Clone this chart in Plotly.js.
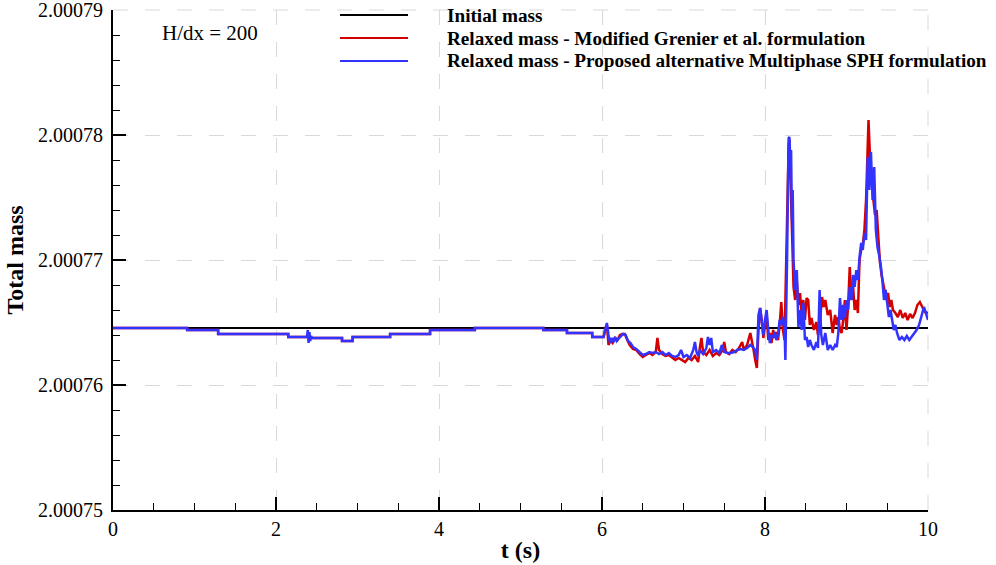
<!DOCTYPE html>
<html>
<head>
<meta charset="utf-8">
<script src="https://cdn.plot.ly/plotly-3.0.1.min.js"></script>
<style>html,body{margin:0;padding:0;background:#fff;}#chart{width:996px;height:565px;}</style>
</head>
<body>
<div id="chart"></div>
<script>
// ---- data ----
const initialT = [0, 10];
const initialM = [2.00076456, 2.00076456];

const blueT = [0,0.91,0.91,1.29,1.29,2.15,2.15,2.38,2.39,2.40,2.41,2.42,2.43,2.44,2.81,2.81,2.94,2.94,3.40,3.40,3.89,3.89,4.44,4.44,5.28,5.28,5.57,5.57,5.88,5.88,6.02,
6.04,6.06,6.08,6.10,6.12,6.14,6.16,6.18,6.20,6.23,6.26,6.29,6.32,6.35,6.38,6.42,6.46,6.50,6.54,6.58,6.62,6.66,6.70,6.74,6.78,6.82,6.86,6.90,6.94,6.97,
7.00,7.04,7.08,7.12,7.14,7.16,7.18,7.20,7.24,7.28,7.30,7.32,7.34,7.36,7.40,7.44,7.47,7.50,7.54,7.58,7.62,7.66,7.70,7.74,7.78,7.82,7.85,7.88,7.90,7.92,7.94,7.96,7.98,
8.00,8.02,8.04,8.06,8.08,8.10,8.12,8.14,8.16,8.18,8.20,8.22,8.24,8.25,8.27,8.29,8.30,8.31,8.32,8.33,8.34,8.35,8.37,8.39,8.41,8.43,8.45,8.47,8.49,8.51,8.53,8.55,8.57,8.60,8.63,8.65,8.67,8.69,8.71,8.74,8.77,8.80,8.83,8.86,8.88,8.90,8.92,8.94,8.96,8.98,
9.00,9.02,9.04,9.06,9.08,9.10,9.12,9.14,9.16,9.18,9.20,9.22,9.24,9.26,9.28,9.30,9.32,9.34,9.36,9.38,9.40,9.42,9.44,9.46,9.48,9.50,9.52,9.54,9.56,9.58,9.60,9.62,9.65,9.68,9.71,9.74,9.77,9.80,9.83,9.86,9.89,9.92,9.95,9.97,10.0];
const blueM = [2.00076456,2.00076456,2.0007644,2.0007644,2.00076408,2.00076408,2.00076384,2.00076384,2.0007644,2.00076336,2.00076424,2.00076352,2.00076392,2.00076376,2.00076376,2.00076352,2.00076352,2.00076384,2.00076384,2.00076408,2.00076408,2.0007644,2.0007644,2.00076456,2.00076456,2.0007644,2.0007644,2.00076416,2.00076416,2.00076384,2.00076384,
2.0007644,2.00076496,2.000764,2.00076336,2.00076376,2.00076344,2.00076384,2.00076352,2.00076368,2.00076392,2.00076408,2.000764,2.00076352,2.00076336,2.00076304,2.00076288,2.00076264,2.0007624,2.00076248,2.00076264,2.00076256,2.00076264,2.00076248,2.00076264,2.0007624,2.00076256,2.00076232,2.00076224,2.0007624,2.0007628,
2.00076224,2.0007624,2.00076216,2.0007628,2.00076344,2.00076264,2.00076232,2.0007628,2.00076248,2.00076296,2.00076384,2.0007632,2.00076376,2.00076264,2.0007628,2.00076256,2.0007632,2.00076264,2.00076256,2.00076256,2.00076264,2.0007628,2.00076288,2.0007628,2.00076296,2.0007632,2.00076304,2.0007628,2.000762,2.0007656,2.00076616,2.0007648,2.000764,
2.0007652,2.000766,2.0007644,2.00076336,2.000764,2.00076376,2.00076424,2.0007636,2.000764,2.0007652,2.0007648,2.00076544,2.0007644,2.000762,2.00076976,2.00077976,2.00077984,2.000778,2.0007788,2.0007732,2.0007756,2.00077,2.0007676,2.0007692,2.00076464,2.000766,2.0007644,2.00076656,2.0007636,2.00076384,2.00076304,2.0007636,2.0007632,2.0007628,2.00076344,2.00076296,2.0007676,2.000764,2.0007632,2.00076416,2.0007628,2.0007632,2.0007628,2.0007632,2.00076304,2.00076416,2.00076696,2.0007652,2.0007664,2.00076536,
2.0007668,2.000766,2.00076784,2.0007668,2.0007688,2.00076784,2.0007692,2.0007684,2.00077024,2.00077136,2.0007708,2.00077216,2.0007716,2.00077824,2.0007756,2.00077864,2.0007748,2.00077744,2.0007724,2.00077104,2.0007704,2.0007696,2.0007684,2.0007668,2.0007676,2.00076624,2.00076544,2.000766,2.0007652,2.0007644,2.0007648,2.00076416,2.0007636,2.00076384,2.0007636,2.00076392,2.0007636,2.00076384,2.00076416,2.0007644,2.0007648,2.0007656,2.00076624,2.00076584,2.0007652];

const redT = [0,0.91,0.91,1.29,1.29,2.15,2.15,2.38,2.40,2.42,2.44,2.81,2.81,2.94,2.94,3.40,3.40,3.89,3.89,4.44,4.44,5.28,5.28,5.57,5.57,5.88,5.88,6.02,
6.04,6.06,6.08,6.10,6.13,6.16,6.19,6.22,6.25,6.28,6.31,6.34,6.38,6.42,6.46,6.50,6.54,6.58,6.62,6.66,6.68,6.70,6.74,6.78,6.82,6.86,6.90,6.94,6.98,
7.02,7.06,7.10,7.14,7.18,7.20,7.22,7.24,7.28,7.32,7.36,7.40,7.44,7.48,7.50,7.52,7.56,7.60,7.64,7.68,7.72,7.74,7.78,7.82,7.84,7.86,7.88,7.90,7.92,7.94,7.96,7.98,
8.00,8.02,8.04,8.06,8.08,8.10,8.12,8.14,8.16,8.18,8.20,8.22,8.24,8.26,8.28,8.29,8.30,8.31,8.32,8.33,8.34,8.35,8.37,8.39,8.41,8.43,8.45,8.47,8.49,8.51,8.53,8.55,8.57,8.60,8.63,8.65,8.67,8.70,8.72,8.74,8.77,8.80,8.83,8.86,8.88,8.90,8.92,8.94,8.96,8.98,
9.00,9.02,9.04,9.06,9.08,9.10,9.12,9.14,9.16,9.18,9.20,9.22,9.24,9.26,9.27,9.29,9.31,9.33,9.35,9.37,9.39,9.41,9.43,9.45,9.47,9.49,9.51,9.53,9.55,9.57,9.60,9.63,9.66,9.69,9.72,9.75,9.78,9.81,9.84,9.87,9.90,9.93,9.96,10.0];
const redM = [2.00076456,2.00076456,2.0007644,2.0007644,2.00076408,2.00076408,2.00076384,2.00076384,2.000764,2.00076376,2.00076376,2.00076376,2.00076352,2.00076352,2.00076384,2.00076384,2.00076408,2.00076408,2.0007644,2.0007644,2.00076456,2.00076456,2.0007644,2.0007644,2.00076416,2.00076416,2.00076384,2.00076384,
2.00076456,2.0007648,2.0007632,2.0007636,2.00076336,2.00076376,2.0007636,2.000764,2.00076408,2.00076408,2.0007636,2.0007632,2.00076288,2.0007628,2.00076248,2.00076224,2.0007624,2.00076256,2.0007624,2.00076264,2.00076376,2.0007628,2.00076248,2.00076232,2.0007624,2.00076216,2.000762,2.00076216,2.000762,
2.00076184,2.00076216,2.000762,2.00076232,2.00076184,2.00076296,2.00076376,2.00076264,2.0007624,2.0007628,2.00076232,2.00076256,2.0007624,2.0007628,2.00076344,2.00076264,2.00076248,2.0007628,2.00076264,2.00076296,2.00076344,2.0007628,2.0007632,2.00076416,2.0007636,2.0007628,2.000762,2.00076136,2.0007644,2.00076616,2.0007652,2.00076376,
2.0007648,2.0007656,2.0007636,2.00076416,2.00076336,2.0007644,2.00076376,2.00076424,2.0007636,2.0007648,2.00076664,2.0007644,2.0007636,2.00077056,2.0007764,2.0007792,2.0007796,2.0007768,2.0007748,2.000772,2.0007708,2.00076784,2.0007668,2.0007684,2.0007664,2.00076736,2.0007656,2.0007668,2.0007652,2.00076696,2.0007668,2.0007648,2.00076536,2.0007644,2.00076504,2.000764,2.0007648,2.00076704,2.00076624,2.0007668,2.0007656,2.000766,2.00076416,2.0007656,2.0007648,2.00076544,2.0007644,2.00076416,2.0007652,2.0007668,
2.0007644,2.0007664,2.00076944,2.0007668,2.000768,2.000766,2.0007668,2.00076576,2.00077,2.0007708,2.0007712,2.0007724,2.0007748,2.0007788,2.0007812,2.000778,2.0007768,2.0007748,2.0007736,2.000774,2.0007716,2.00076984,2.0007688,2.00076816,2.0007676,2.0007668,2.00076736,2.00076624,2.0007668,2.000766,2.00076576,2.00076544,2.000766,2.00076536,2.00076576,2.0007652,2.00076568,2.00076536,2.00076576,2.0007664,2.00076664,2.00076624,2.00076584,2.00076576];

const seriesNames = ['Initial mass', 'Relaxed mass - Modified Grenier et al. formulation', 'Relaxed mass - Proposed alternative Multiphase SPH formulation'];
const seriesColors = ['#000000', '#d40000', '#3333ff'];
const yTickVals = [2.00075, 2.00076, 2.00077, 2.00078, 2.00079];
const yTickText = ['2.00075', '2.00076', '2.00077', '2.00078', '2.00079'];
const xTickVals = [0, 2, 4, 6, 8, 10];
const annotationText = 'H/dx = 200';

// ---- chart ----
const serif = 'Liberation Serif, Times New Roman, serif';
const gridColor = '#d9d9d9';
const gridDash = '15px,17px';
const traces = [
  {x: initialT, y: initialM, mode: 'lines', name: seriesNames[0], line: {color: seriesColors[0], width: 2}},
  {x: redT, y: redM, mode: 'lines', name: seriesNames[1], line: {color: seriesColors[1], width: 2.5}},
  {x: blueT, y: blueM, mode: 'lines', name: seriesNames[2], line: {color: seriesColors[2], width: 2.5}}
];

// grid lines at the far edges of the range (Plotly skips those)
const shapes = [
  {type: 'line', xref: 'paper', yref: 'paper', x0: 0, x1: 1, y0: 1, y1: 1, layer: 'below', line: {color: gridColor, width: 1, dash: gridDash}},
  {type: 'line', xref: 'paper', yref: 'paper', x0: 1, x1: 1, y0: 0, y1: 1, layer: 'below', line: {color: gridColor, width: 1, dash: gridDash}}
];
// legend drawn with shapes/annotations (long line samples like the reference)
const legRows = [0.99, 0.944, 0.898];
const annotations = [];
seriesNames.forEach((n, i) => {
  shapes.push({type: 'line', xref: 'paper', yref: 'paper', x0: 0.2785, x1: 0.362, y0: legRows[i], y1: legRows[i],
    line: {color: seriesColors[i], width: 2}});
  annotations.push({xref: 'paper', yref: 'paper', x: 0.4074, y: legRows[i], xanchor: 'left', yanchor: 'middle',
    text: '<b>' + n + '</b>', showarrow: false, font: {family: serif, size: 19.2, color: '#000'}});
});
annotations.push({xref: 'paper', yref: 'paper', x: 0.0577, y: 0.954, xanchor: 'left', yanchor: 'middle',
  text: annotationText, showarrow: false, font: {family: serif, size: 21, color: '#000'}});

const layout = {
  width: 996, height: 565,
  margin: {l: 113, r: 68, t: 10, b: 55},
  paper_bgcolor: '#fff', plot_bgcolor: '#fff',
  showlegend: false,
  font: {family: serif, size: 20, color: '#000'},
  xaxis: {
    range: [0, 10], tickvals: xTickVals, ticks: 'inside', ticklen: 13, tickwidth: 2, tickcolor: '#000',
    showline: true, linewidth: 2, linecolor: '#000', zeroline: false,
    showgrid: true, gridcolor: gridColor, gridwidth: 1, griddash: gridDash,
    minor: {dtick: 0.5, ticks: 'inside', ticklen: 7, tickwidth: 1, tickcolor: '#000', showgrid: false},
    tickfont: {family: serif, size: 20}, ticklabeloverflow: 'allow',
    title: {text: '<b>t (s)</b>', font: {family: serif, size: 24}, standoff: 2}
  },
  yaxis: {
    range: [2.00075, 2.00079], tickvals: yTickVals, ticktext: yTickText, ticks: 'inside', ticklen: 13, tickwidth: 2, tickcolor: '#000',
    showline: true, linewidth: 2, linecolor: '#000', zeroline: false,
    showgrid: true, gridcolor: gridColor, gridwidth: 1, griddash: gridDash,
    minor: {dtick: 0.000002, ticks: 'inside', ticklen: 7, tickwidth: 1, tickcolor: '#000', showgrid: false},
    tickfont: {family: serif, size: 20}, ticklabelstandoff: 4, ticklabeloverflow: 'allow',
    title: {text: '<b>Total mass</b>', font: {family: serif, size: 24}, standoff: 8}
  },
  shapes: shapes,
  annotations: annotations
};
Plotly.newPlot('chart', traces, layout, {displayModeBar: false, staticPlot: true});
</script>
</body>
</html>
